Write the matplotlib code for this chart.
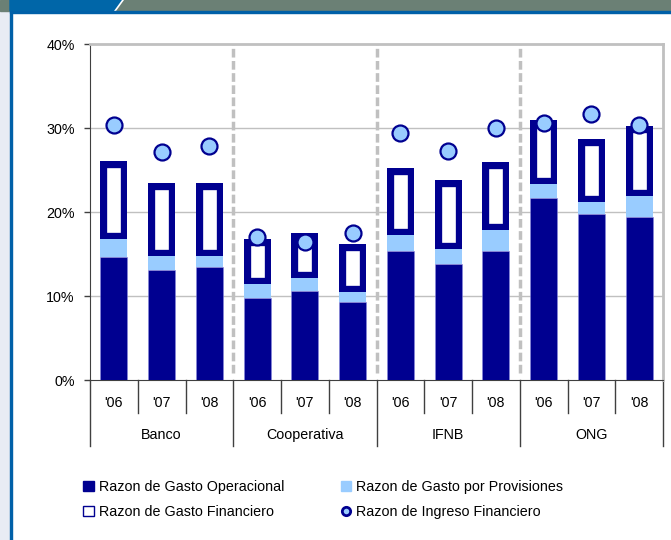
import matplotlib
matplotlib.use('Agg')
import matplotlib.pyplot as plt
from matplotlib.patches import Rectangle, Polygon
from matplotlib.lines import Line2D
import matplotlib.transforms as mtrans

plt.rcParams['font.family'] = ['Liberation Sans', 'DejaVu Sans']

groups = ['Banco', 'Cooperativa', 'IFNB', 'ONG']
years = ["'06", "'07", "'08"]
gasto_operacional = [14.6, 13.1, 13.5, 9.8, 10.6, 9.3, 15.3, 13.8, 15.3, 21.7, 19.8, 19.4]
gasto_provisiones = [2.2, 1.7, 1.3, 1.6, 1.5, 1.2, 2.0, 1.8, 2.5, 1.6, 1.4, 2.5]
gasto_financiero = [9.3, 8.7, 8.6, 5.4, 5.4, 5.7, 7.9, 8.2, 8.2, 7.6, 7.5, 8.3]
ingreso_financiero = [30.4, 27.1, 27.9, 17.0, 16.4, 17.5, 29.4, 27.3, 30.0, 30.55, 31.7, 30.4]
legend_labels = ['Razon de Gasto Operacional', 'Razon de Gasto por Provisiones',
                 'Razon de Gasto Financiero', 'Razon de Ingreso Financiero']

NAVY = '#000090'
LIGHT = '#99CCFF'
GRID = '#C0C0C0'
FS = 10.3

W, H = 671, 540
fig = plt.figure(figsize=(W / 100, H / 100), dpi=100)

# decorative frame
fig.patches.append(Rectangle((0, 0), 9.5 / W, 1, transform=fig.transFigure, color='#E8ECF4', zorder=0))
fig.patches.append(Rectangle((9.5 / W, 0), 2.5 / W, 1, transform=fig.transFigure, color='#0060A8', zorder=1))
fig.patches.append(Rectangle((0, 1 - 11 / H), 1, 11 / H, transform=fig.transFigure, color='#6B8075', zorder=1))
fig.patches.append(Polygon([(10 / W, 1), (122 / W, 1), (114 / W, 1 - 11 / H), (10 / W, 1 - 11 / H)],
                           closed=True, transform=fig.transFigure, color='#0066A8', zorder=2))
fig.lines.append(Line2D([115 / W, 123 / W], [1 - 11 / H, 1], transform=fig.transFigure, color='white', lw=1.2, zorder=3))
fig.patches.append(Rectangle((9.5 / W, 1 - 13 / H), 1, 2.2 / H, transform=fig.transFigure, color='#0060A8', zorder=3))

ax = fig.add_axes([90 / W, 1 - 380 / H, (663 - 90) / W, 336 / H])

n = len(gasto_operacional)
x = list(range(n))
width = 0.57

bottom2 = [a + b for a, b in zip(gasto_operacional, gasto_provisiones)]
ax.bar(x, gasto_operacional, width, color=NAVY, edgecolor='#8888DD', linewidth=0.4, zorder=3)
ax.bar(x, gasto_provisiones, width, bottom=gasto_operacional, color=LIGHT, edgecolor='none', zorder=3)
fin = ax.bar(x, gasto_financiero, width, bottom=bottom2, facecolor='white', edgecolor=NAVY,
             linewidth=9.6, zorder=3)
for p in fin:
    p.set_clip_path(p)
ax.plot(x, ingreso_financiero, ls='none', marker='o', ms=11.5, mfc=LIGHT, mec=NAVY, mew=1.6, zorder=5)

ax.set_xlim(-0.5, n - 0.5)
ax.set_ylim(0, 40)
ax.set_yticks([0, 10, 20, 30, 40])
ax.set_yticklabels([f'{v}%' for v in [0, 10, 20, 30, 40]], fontsize=FS)
ax.tick_params(axis='y', length=4, width=1, color='#404040', pad=7)
ax.set_xticks([])
for v in [10, 20, 30]:
    ax.axhline(v, color=GRID, lw=1, zorder=1)
for b in [2.5, 5.5, 8.5]:
    ax.axvline(b, ymin=0.02, ymax=1, color=GRID, lw=2.5, ls=(0, (2.5, 1)), zorder=2)

ax.spines['top'].set_color(GRID)
ax.spines['top'].set_linewidth(2)
ax.spines['right'].set_color(GRID)
ax.spines['right'].set_linewidth(2)
ax.spines['left'].set_color('#404040')
ax.spines['bottom'].set_color('#404040')

trans = mtrans.blended_transform_factory(ax.transData, ax.transAxes)
for i in x:
    ax.text(i, -0.068, years[i % 3], transform=trans, ha='center', va='center', fontsize=FS)
for g, name in enumerate(groups):
    ax.text(g * 3 + 1, -0.165, name, transform=trans, ha='center', va='center', fontsize=FS)
for i in range(n + 1):
    xb = i - 0.5
    yend = -0.196 if i % 3 == 0 else -0.098
    ax.plot([xb, xb], [0, yend], transform=trans, color='#404040', lw=1, clip_on=False)

handles = [
    Rectangle((0, 0), 1, 1, facecolor=NAVY, edgecolor=NAVY),
    Rectangle((0, 0), 1, 1, facecolor='white', edgecolor=NAVY, linewidth=1),
    Rectangle((0, 0), 1, 1, facecolor=LIGHT, edgecolor=LIGHT),
    Line2D([], [], ls='none', marker='o', ms=6, mfc=LIGHT, mec=NAVY, mew=2),
]
labels = [legend_labels[0], legend_labels[2], legend_labels[1], legend_labels[3]]
fig.legend(handles, labels, ncol=2, loc='upper left', bbox_to_anchor=(83 / W, 1 - 480 / H),
           frameon=False, fontsize=FS, handlelength=0.75, handleheight=0.75, handletextpad=0.35,
           columnspacing=3.95, labelspacing=0.78, borderaxespad=0, borderpad=0)

fig.savefig('out.png', dpi=100)
